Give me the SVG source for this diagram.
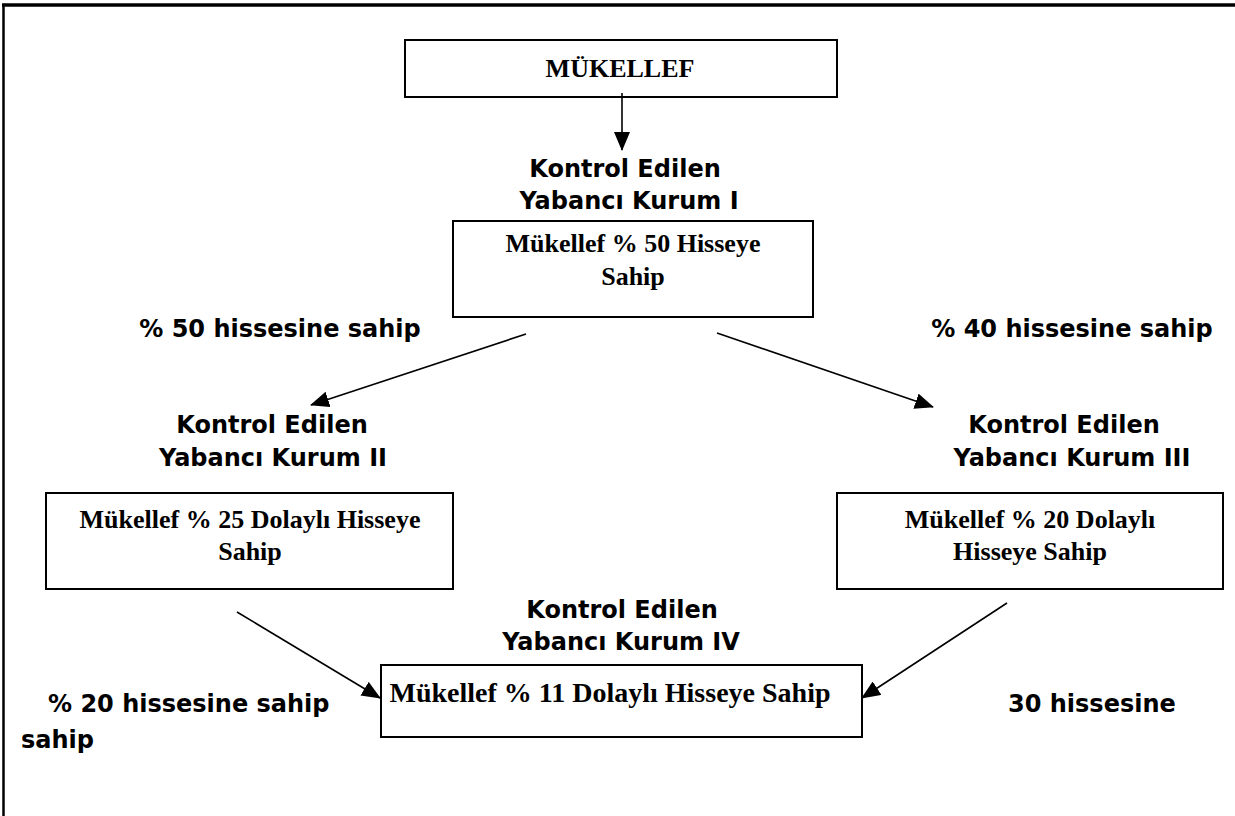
<svg xmlns="http://www.w3.org/2000/svg" width="1235" height="816" viewBox="0 0 1235 816">
  <style>
    .box { fill: #ffffff; stroke: #000000; stroke-width: 2; }
    .serif { font-family: "Liberation Serif", "Times New Roman", serif; font-weight: bold; font-size: 26px; fill: #000000; }
    .serif-lg { font-size: 28px; }
    .label { font-family: "DejaVu Sans", Verdana, sans-serif; font-weight: bold; font-size: 24px; fill: #000000; }
    .mid { text-anchor: middle; }
    .edge { stroke: #000000; stroke-width: 1.6; fill: none; marker-end: url(#head); }
  </style>
  <defs>
    <marker id="head" markerUnits="userSpaceOnUse" markerWidth="19" markerHeight="16" viewBox="0 0 19 16" refX="18" refY="8" orient="auto">
      <path d="M0,0 L19,8 L0,16 Z" fill="#000000"/>
    </marker>
  </defs>

  <rect width="1235" height="816" fill="#ffffff"/>

  <!-- page frame: top and left rules -->
  <g id="frame" stroke="#000000" fill="none">
    <line x1="2" y1="5" x2="1235" y2="5" stroke-width="3.5"/>
    <line x1="3.5" y1="4" x2="3.5" y2="816" stroke-width="2.5"/>
  </g>

  <g id="mukellef">
    <rect class="box" x="405" y="40" width="432" height="57"/>
    <text class="serif mid" x="620" y="77">MÜKELLEF</text>
  </g>

  <g id="kurum1">
    <text class="label mid" x="625" y="177">Kontrol Edilen</text>
    <text class="label mid" x="629" y="209">Yabancı Kurum I</text>
    <rect class="box" x="453" y="221" width="360" height="96"/>
    <text class="serif mid" x="633" y="252">Mükellef % 50 Hisseye</text>
    <text class="serif mid" x="633" y="285">Sahip</text>
  </g>

  <g id="kurum2">
    <text class="label mid" x="272" y="433">Kontrol Edilen</text>
    <text class="label mid" x="273" y="466">Yabancı Kurum II</text>
    <rect class="box" x="46" y="493" width="407" height="96"/>
    <text class="serif mid" x="250" y="528">Mükellef % 25 Dolaylı Hisseye</text>
    <text class="serif mid" x="250" y="560">Sahip</text>
  </g>

  <g id="kurum3">
    <text class="label mid" x="1064" y="433">Kontrol Edilen</text>
    <text class="label mid" x="1072" y="466">Yabancı Kurum III</text>
    <rect class="box" x="837" y="493" width="386" height="96"/>
    <text class="serif mid" x="1030" y="528">Mükellef % 20 Dolaylı</text>
    <text class="serif mid" x="1030" y="560">Hisseye Sahip</text>
  </g>

  <g id="kurum4">
    <text class="label mid" x="622" y="618">Kontrol Edilen</text>
    <text class="label mid" x="621" y="650">Yabancı Kurum IV</text>
    <rect class="box" x="381" y="665" width="481" height="72"/>
    <text class="serif serif-lg mid" x="610" y="702">Mükellef % 11 Dolaylı Hisseye Sahip</text>
  </g>

  <g id="share-labels">
    <text class="label mid" x="280" y="337">% 50 hissesine sahip</text>
    <text class="label mid" x="1072" y="337">% 40 hissesine sahip</text>
    <text class="label" x="48" y="712">% 20 hissesine sahip</text>
    <text class="label" x="21" y="748">sahip</text>
    <text class="label" x="1008" y="712">30 hissesine</text>
  </g>

  <g id="connectors">
    <line class="edge" x1="622" y1="93" x2="622" y2="150"/>
    <line class="edge" x1="526" y1="334" x2="311" y2="405"/>
    <line class="edge" x1="717" y1="333" x2="933" y2="407"/>
    <line class="edge" x1="237" y1="612" x2="380" y2="698"/>
    <line class="edge" x1="1007" y1="603" x2="862" y2="698"/>
  </g>
</svg>
